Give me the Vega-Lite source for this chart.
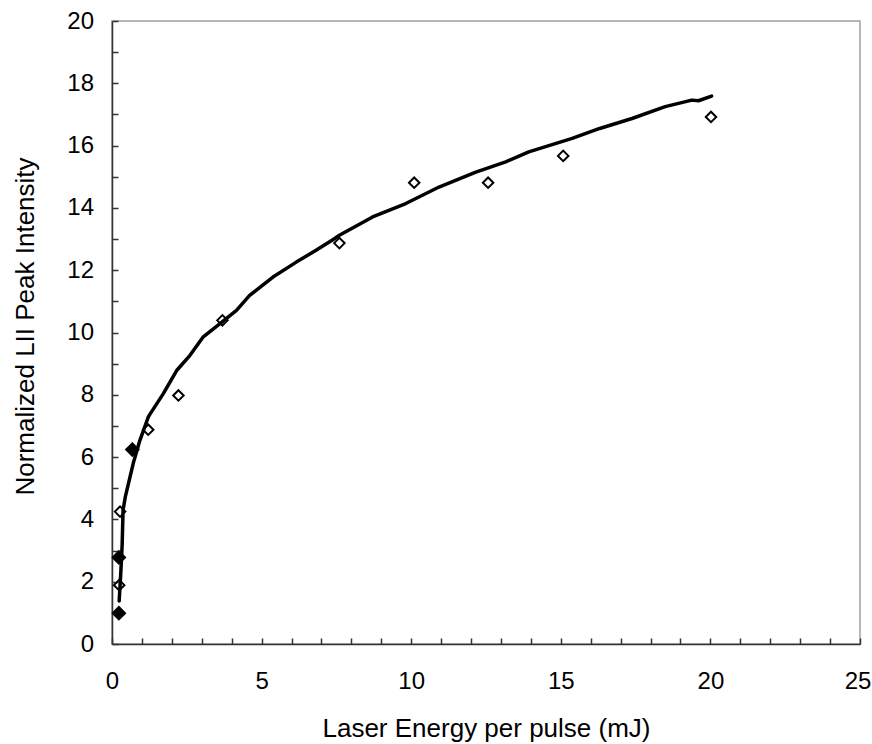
{
  "$schema": "https://vega.github.io/schema/vega-lite/v6.json",
  "autosize": {"type": "none"},
  "padding": {"left": 112, "top": 21, "right": 12, "bottom": 100},
  "width": 748,
  "height": 623,
  "background": "white",
  "config": {
    "view": {"stroke": "#a0a0a0", "strokeWidth": 1.5},
    "axis": {
      "grid": false,
      "domainColor": "#333",
      "domainWidth": 1.5,
      "tickColor": "#333",
      "tickWidth": 1.5,
      "tickSize": -6,
      "labelFont": "Liberation Sans",
      "labelFontSize": 24,
      "labelColor": "black",
      "titleFont": "Liberation Sans",
      "titleFontSize": 26,
      "titleFontWeight": "normal",
      "titleColor": "black"
    }
  },
  "datasets": {
    "curve": [
      {"x": 0.24, "y": 1.38}, {"x": 0.30, "y": 2.4}, {"x": 0.34, "y": 3.2}, {"x": 0.37, "y": 4.3},
      {"x": 0.45, "y": 4.75}, {"x": 0.71, "y": 5.8}, {"x": 0.93, "y": 6.53}, {"x": 1.21, "y": 7.28},
      {"x": 1.27, "y": 7.38}, {"x": 1.71, "y": 8.03}, {"x": 2.16, "y": 8.78}, {"x": 2.6, "y": 9.26},
      {"x": 3.04, "y": 9.85}, {"x": 3.6, "y": 10.28}, {"x": 4.16, "y": 10.71}, {"x": 4.6, "y": 11.19},
      {"x": 5.38, "y": 11.78}, {"x": 6.16, "y": 12.26}, {"x": 6.82, "y": 12.64}, {"x": 7.38, "y": 12.98},
      {"x": 7.6, "y": 13.12}, {"x": 8.71, "y": 13.71}, {"x": 9.82, "y": 14.14}, {"x": 10.93, "y": 14.67},
      {"x": 12.16, "y": 15.15}, {"x": 13.16, "y": 15.48}, {"x": 13.93, "y": 15.8}, {"x": 15.38, "y": 16.23},
      {"x": 16.3, "y": 16.55}, {"x": 17.38, "y": 16.87}, {"x": 18.49, "y": 17.25}, {"x": 19.38, "y": 17.46},
      {"x": 19.6, "y": 17.44}, {"x": 20.04, "y": 17.59}
    ],
    "open": [
      {"x": 0.24, "y": 1.89}, {"x": 0.27, "y": 4.25}, {"x": 1.21, "y": 6.88}, {"x": 2.22, "y": 7.98},
      {"x": 3.69, "y": 10.39}, {"x": 7.6, "y": 12.87}, {"x": 10.1, "y": 14.81}, {"x": 12.57, "y": 14.81},
      {"x": 15.08, "y": 15.67}, {"x": 20.02, "y": 16.92}
    ],
    "filled": [
      {"x": 0.23, "y": 0.99}, {"x": 0.23, "y": 2.78}, {"x": 0.68, "y": 6.24}
    ]
  },
  "encoding": {
    "x": {
      "field": "x", "type": "quantitative",
      "scale": {"domain": [0, 25], "nice": false, "zero": true},
      "axis": {
        "title": "Laser Energy per pulse (mJ)",
        "values": [0,1,2,3,4,5,6,7,8,9,10,11,12,13,14,15,16,17,18,19,20,21,22,23,24,25],
        "labelExpr": "datum.value % 5 === 0 ? datum.label : ''",
        "labelOffset": {"condition": {"test": "datum.value === 25", "value": -2.5}, "value": 0},
        "labelPadding": 31,
        "labelFlush": false,
        "labelOverlap": false,
        "titleBaseline": "alphabetic",
        "titleY": 92.5,
        "titleX": 374
      }
    },
    "y": {
      "field": "y", "type": "quantitative",
      "scale": {"domain": [0, 20], "nice": false},
      "axis": {
        "title": "Normalized LII Peak Intensity",
        "values": [0,1,2,3,4,5,6,7,8,9,10,11,12,13,14,15,16,17,18,19,20],
        "labelExpr": "datum.value % 2 === 0 ? datum.label : ''",
        "labelPadding": 24.5,
        "labelFlush": false,
        "labelOverlap": false,
        "titleBaseline": "alphabetic",
        "titleAngle": -90,
        "titleX": -78.7,
        "titleY": 305
      }
    }
  },
  "layer": [
    {
      "data": {"name": "curve"},
      "mark": {"type": "line", "color": "black", "strokeWidth": 3.5, "strokeJoin": "round", "strokeCap": "round"}
    },
    {
      "data": {"name": "open"},
      "mark": {"type": "point", "shape": "diamond", "filled": false, "stroke": "black", "strokeWidth": 2, "size": 110, "opacity": 1}
    },
    {
      "data": {"name": "filled"},
      "mark": {"type": "point", "shape": "diamond", "filled": true, "fill": "black", "size": 230, "opacity": 1}
    }
  ]
}
